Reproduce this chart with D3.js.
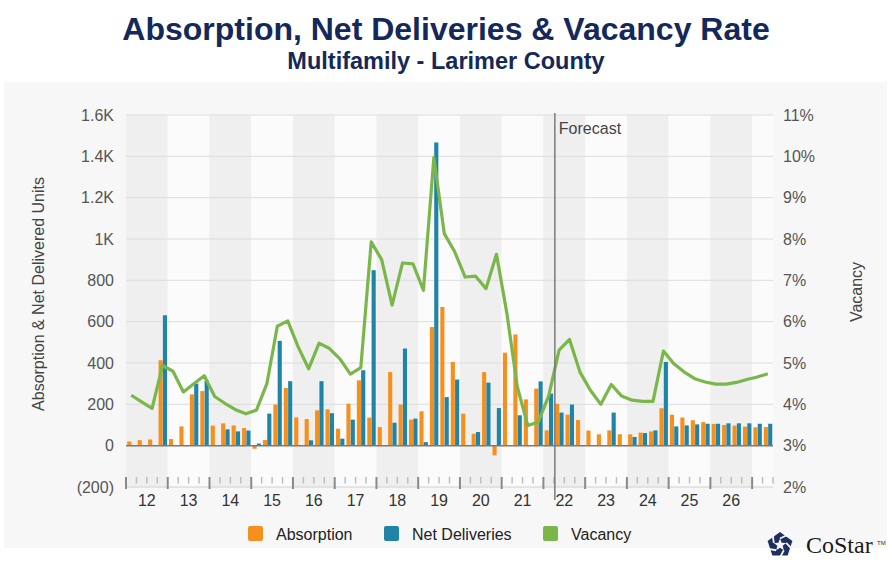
<!DOCTYPE html>
<html>
<head>
<meta charset="utf-8">
<script src="https://cdn.jsdelivr.net/npm/d3@7/dist/d3.min.js"></script>
<style>
  html, body { margin: 0; padding: 0; background: #fff; }
  svg { display: block; font-family: "Liberation Sans", Arial, sans-serif; }
</style>
</head>
<body>
<svg id="chart" width="892" height="573"></svg>
<script>
// ---- data ----
var years = [2012, 2013, 2014, 2015, 2016, 2017, 2018, 2019, 2020, 2021, 2022, 2023, 2024, 2025, 2026, 2027];
var yearLabels = ['12', '13', '14', '15', '16', '17', '18', '19', '20', '21', '22', '23', '24', '25', '26', ''];
var quarterNames = ['Q1', 'Q2', 'Q3', 'Q4'];
var quarterCount = 62;   // 2012 Q1 .. 2027 Q2
var forecastStart = '2022 Q2';

var absorption = [20, 27, 30, 413, 32, 93, 248, 264, 97, 108, 98, 85, -15, 27, 199, 279,
  137, 129, 171, 176, 82, 203, 316, 136, 90, 356, 199, 126, 166, 574, 671, 405,
  155, 58, 356, -47, 450, 538, 224, 276, 74, 203, 150, 124, 73, 55, 74, 55,
  55, 63, 69, 181, 150, 136, 123, 114, 105, 100, 97, 92, 89, 90];

var deliveries = [0, 0, 0, 631, 0, 0, 300, 316, 0, 79, 69, 73, 10, 155, 507, 312,
  0, 26, 312, 157, 34, 126, 365, 849, 0, 111, 470, 131, 17, 1467, 235, 320,
  0, 66, 305, 182, 0, 147, 0, 311, 252, 160, 199, 0, 0, 0, 160, 0,
  42, 61, 74, 405, 93, 98, 103, 106, 106, 108, 108, 108, 106, 106];

var vacancy = [4.22, 4.06, 3.90, 4.94, 4.80, 4.30, 4.50, 4.69, 4.19, 4.02, 3.87, 3.77, 3.86, 4.50, 5.89, 6.02,
  5.39, 4.86, 5.48, 5.35, 5.10, 4.73, 4.89, 7.93, 7.50, 6.40, 7.42, 7.40, 6.76, 9.97, 8.13, 7.69,
  7.08, 7.10, 6.80, 7.63, 6.20, 4.42, 3.49, 3.57, 4.20, 5.31, 5.57, 4.78, 4.34, 4.00, 4.48, 4.20,
  4.10, 4.07, 4.07, 5.29, 4.98, 4.78, 4.62, 4.54, 4.49, 4.49, 4.53, 4.60, 4.66, 4.74];

var unitTicks = [-200, 0, 200, 400, 600, 800, 1000, 1200, 1400, 1600];
var vacancyTicks = [2, 3, 4, 5, 6, 7, 8, 9, 10, 11];

var seriesNames = ['Absorption', 'Net Deliveries', 'Vacancy'];
var colors = { abs: '#f5901e', del: '#1f84a5', vac: '#7ab64a' };

// quarter labels
var quarters = [];
years.forEach(function(yr){
  quarterNames.forEach(function(q){ quarters.push(yr + ' ' + q); });
});
quarters = quarters.slice(0, quarterCount);

// ---- layout ----
var svg = d3.select('#chart');
var W = 892, H = 573;
var plotLeft = 126, plotRight = 773, plotTop = 115, plotBottom = 487;
var FONT = '"Liberation Sans", Arial, sans-serif';

svg.append('rect').attr('width', W).attr('height', H).attr('fill', '#ffffff');
svg.append('rect').attr('x', 4).attr('y', 82).attr('width', 883).attr('height', 466).attr('fill', '#f7f7f7');

// titles
svg.append('text').attr('x', W / 2).attr('y', 40).attr('text-anchor', 'middle')
  .attr('font-size', 32).attr('font-weight', 'bold').attr('fill', '#14285a')
  .text('Absorption, Net Deliveries & Vacancy Rate');
svg.append('text').attr('x', W / 2).attr('y', 69).attr('text-anchor', 'middle')
  .attr('font-size', 23.5).attr('font-weight', 'bold').attr('fill', '#14285a')
  .text('Multifamily - Larimer County');

// scales
var x = d3.scaleBand().domain(quarters).range([plotLeft, plotRight]);
var bw = x.bandwidth();
var xs = d3.scaleBand().domain(['abs', 'del']).range([bw * 0.12, bw * 0.93]).paddingInner(0.05);
var y = d3.scaleLinear().domain([-200, 1600]).range([plotBottom, plotTop]);
var y2 = d3.scaleLinear().domain([2, 11]).range([plotBottom, plotTop]);

// year bands
var plot = svg.append('g');
years.forEach(function(yr, i){
  var x0 = x(yr + ' Q1');
  var x1 = Math.min(x0 + 4 * bw, plotRight);
  plot.append('rect').attr('x', x0).attr('y', plotTop).attr('width', x1 - x0).attr('height', plotBottom - plotTop)
    .attr('fill', i % 2 === 0 ? '#efefef' : '#fbfbfb');
});

// grid lines
plot.selectAll('line.grid').data(unitTicks.filter(function(d){ return d > -200 && d !== 0; }))
  .enter().append('line').attr('class', 'grid')
  .attr('x1', plotLeft).attr('x2', plotRight)
  .attr('y1', function(d){ return y(d); }).attr('y2', function(d){ return y(d); })
  .attr('stroke', '#dddddd').attr('stroke-width', 1);
plot.append('line').attr('x1', plotLeft).attr('x2', plotRight).attr('y1', plotBottom).attr('y2', plotBottom)
  .attr('stroke', '#d0d0d0');

// bottom ticks
var bounds = quarters.map(function(q){ return x(q); }).concat([plotRight]);
plot.selectAll('line.qtick').data(bounds).enter().append('line').attr('class', 'qtick')
  .attr('x1', function(d){ return d; }).attr('x2', function(d){ return d; })
  .attr('y1', 477)
  .attr('y2', function(d, i){ return i % 4 === 0 ? 489 : 483.5; })
  .attr('stroke', function(d, i){ return i % 4 === 0 ? '#8a8a8a' : '#bdbdbd'; })
  .attr('stroke-width', function(d, i){ return i % 4 === 0 ? 2 : 1.5; });

// bars
plot.selectAll('rect.abs').data(absorption).enter().append('rect').attr('class', 'abs')
  .attr('x', function(d, i){ return x(quarters[i]) + xs('abs'); })
  .attr('width', xs.bandwidth())
  .attr('y', function(d){ return y(Math.max(0, d)); })
  .attr('height', function(d){ return Math.abs(y(d) - y(0)); })
  .attr('fill', colors.abs);
plot.selectAll('rect.del').data(deliveries).enter().append('rect').attr('class', 'del')
  .attr('x', function(d, i){ return x(quarters[i]) + xs('del'); })
  .attr('width', xs.bandwidth())
  .attr('y', function(d){ return y(Math.max(0, d)); })
  .attr('height', function(d){ return Math.abs(y(d) - y(0)); })
  .attr('fill', colors.del);

// zero line
plot.append('line').attr('x1', plotLeft).attr('x2', plotRight).attr('y1', y(0)).attr('y2', y(0))
  .attr('stroke', '#7a7a7a').attr('stroke-width', 1.5);

// vacancy line
var line = d3.line()
  .x(function(d, i){ return x(quarters[i]) + bw / 2; })
  .y(function(d){ return y2(d); });
plot.append('path').datum(vacancy).attr('d', line)
  .attr('fill', 'none').attr('stroke', colors.vac).attr('stroke-width', 3.2)
  .attr('stroke-linejoin', 'round');

// forecast marker
var xf = x(forecastStart) + 1;
plot.append('line').attr('x1', xf).attr('x2', xf).attr('y1', plotTop - 2).attr('y2', 500)
  .attr('stroke', '#7a7a7a').attr('stroke-width', 1.5);
plot.append('text').attr('x', xf + 4).attr('y', 134).attr('font-size', 16).attr('fill', '#444')
  .text('Forecast');

// axes
function unitFmt(d){
  if (d < 0) return '(' + Math.abs(d) + ')';
  if (d >= 1000) return (d / 1000) + 'K';
  return String(d);
}
var gl = svg.append('g').attr('transform', 'translate(' + plotLeft + ',0)')
  .call(d3.axisLeft(y).tickValues(unitTicks).tickSize(0).tickPadding(12).tickFormat(unitFmt));
var gr = svg.append('g').attr('transform', 'translate(' + plotRight + ',0)')
  .call(d3.axisRight(y2).tickValues(vacancyTicks).tickSize(0).tickPadding(10).tickFormat(function(d){ return d + '%'; }));
[gl, gr].forEach(function(g){
  g.select('.domain').remove();
  g.selectAll('text').attr('font-size', 16).attr('fill', '#555').attr('font-family', FONT);
});

// year labels
svg.selectAll('text.year').data(years).enter().append('text').attr('class', 'year')
  .attr('x', function(d){ return x(d + ' Q1') + 2 * bw; })
  .attr('y', 506).attr('text-anchor', 'middle').attr('font-size', 16).attr('fill', '#333')
  .text(function(d, i){ return yearLabels[i]; });

// axis titles
svg.append('text').attr('transform', 'translate(44,294) rotate(-90)').attr('text-anchor', 'middle')
  .attr('font-size', 16).attr('fill', '#444').text('Absorption & Net Delivered Units');
svg.append('text').attr('transform', 'translate(862,292) rotate(-90)').attr('text-anchor', 'middle')
  .attr('font-size', 16).attr('fill', '#444').text('Vacancy');

// legend
var legendX = [248, 384, 543];
var legendColors = [colors.abs, colors.del, colors.vac];
var lg = svg.append('g');
seriesNames.forEach(function(name, i){
  lg.append('rect').attr('x', legendX[i]).attr('y', 526).attr('width', 15).attr('height', 15)
    .attr('rx', 2).attr('fill', legendColors[i]);
  lg.append('text').attr('x', legendX[i] + 28).attr('y', 540).attr('font-size', 16).attr('fill', '#222')
    .text(name);
});

// CoStar logo
var cx = 780, cy = 545, R = 13;
var logo = svg.append('g');
var pent = d3.range(5).map(function(k){
  var a = (-90 + 72 * k) * Math.PI / 180;
  return [cx + R * Math.cos(a), cy + R * Math.sin(a)];
});
logo.append('polygon').attr('points', pent.map(function(p){ return p.join(','); }).join(' ')).attr('fill', '#1d2f5e');
var star = [];
d3.range(10).forEach(function(k){
  var a = (-90 + 36 * k) * Math.PI / 180;
  var r = k % 2 === 0 ? 6.5 : 2.8;
  star.push([cx + r * Math.cos(a), cy + r * Math.sin(a)]);
});
logo.append('polygon').attr('points', star.map(function(p){ return p.join(','); }).join(' ')).attr('fill', '#f7f7f7');
d3.range(5).forEach(function(k){
  var a = (-90 + 72 * k) * Math.PI / 180;
  var b = (-90 + 72 * k + 36) * Math.PI / 180;
  var p0 = [cx + 6.5 * Math.cos(a), cy + 6.5 * Math.sin(a)];
  var p1 = [cx + R * Math.cos(b) * 0.95, cy + R * Math.sin(b) * 0.95];
  logo.append('line').attr('x1', p0[0]).attr('y1', p0[1]).attr('x2', p1[0]).attr('y2', p1[1])
    .attr('stroke', '#f7f7f7').attr('stroke-width', 1.8);
});
logo.append('text').attr('x', 806).attr('y', 553).attr('font-family', '"Liberation Serif", "DejaVu Serif", serif')
  .attr('font-size', 24).attr('fill', '#1a1a1a').text('CoStar');
logo.append('text').attr('x', 877).attr('y', 545).attr('font-size', 6).attr('fill', '#333').text('TM');
</script>
</body>
</html>
